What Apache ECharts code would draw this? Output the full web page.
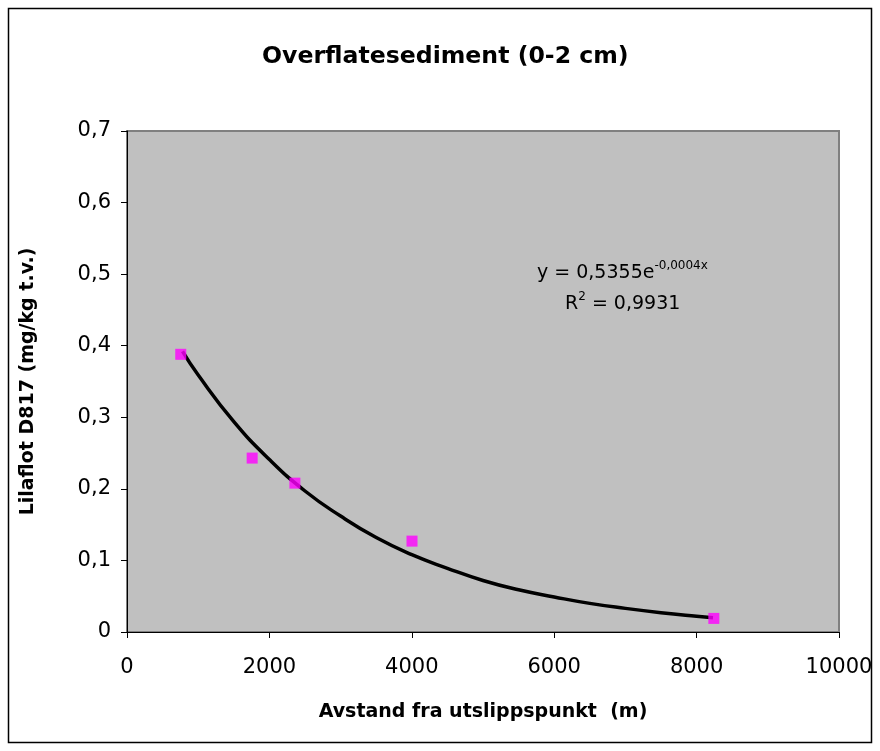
<!DOCTYPE html>
<html>
<head>
<meta charset="utf-8">
<script src="https://cdn.jsdelivr.net/npm/echarts@6/dist/echarts.min.js"></script>
<style>
html,body{margin:0;padding:0;background:#fff;}
#chart{width:880px;height:751px;}
</style>
</head>
<body>
<div id="chart"></div>
<script>
// Measured points
var pointX = [755, 1758, 2358, 4003, 8242];
var pointY = [0.388, 0.243, 0.208, 0.127, 0.019];
// Trend line
var trendX = [780, 1000, 1500, 2000, 2500, 3000, 3500, 4000, 4500, 5000, 5500, 6000, 6500, 7000, 7500, 8000, 8230];
var trendY = [0.392, 0.359, 0.294, 0.241, 0.197, 0.162, 0.132, 0.108, 0.089, 0.072, 0.059, 0.049, 0.040, 0.033, 0.027, 0.022, 0.020];

var font = '"DejaVu Sans", sans-serif';
var chart = echarts.init(document.getElementById('chart'));

function zip(a, b) { return a.map(function (v, i) { return [v, b[i]]; }); }

chart.setOption({
  animation: false,
  backgroundColor: '#fff',
  title: {
    text: 'Overflatesediment (0-2 cm)',
    left: 257,
    top: 40,
    textStyle: { fontFamily: font, fontSize: 23.6, fontWeight: 'bold', color: '#000' }
  },
  grid: { left: 127, top: 131, right: 41, bottom: 119, show: true, backgroundColor: '#c0c0c0', borderColor: '#808080', borderWidth: 2 },
  xAxis: {
    type: 'value', min: 0, max: 10000, interval: 2000,
    name: 'Avstand fra utslippspunkt  (m)', nameLocation: 'middle', nameGap: 71,
    nameTextStyle: { fontFamily: font, fontSize: 19, fontWeight: 'bold', color: '#000' },
    axisLine: { show: true, lineStyle: { color: '#000', width: 1 } },
    axisTick: { show: true, length: 6, lineStyle: { color: '#000' } },
    axisLabel: { fontFamily: font, fontSize: 21, color: '#000', margin: 25,
      formatter: function (v) { return String(v); } },
    splitLine: { show: false }
  },
  yAxis: {
    type: 'value', min: 0, max: 0.7, interval: 0.1,
    name: 'Lilaflot D817 (mg/kg t.v.)', nameLocation: 'middle', nameGap: 89,
    nameTextStyle: { fontFamily: font, fontSize: 19, fontWeight: 'bold', color: '#000' },
    axisLine: { show: true, lineStyle: { color: '#000', width: 1 } },
    axisTick: { show: true, length: 6, lineStyle: { color: '#000' } },
    axisLabel: { fontFamily: font, fontSize: 21, color: '#000', margin: 16,
      formatter: function (v) { return (Math.round(v * 10) / 10).toString().replace('.', ','); } },
    splitLine: { show: false }
  },
  series: [
    {
      type: 'line', data: zip(trendX, trendY), smooth: true, showSymbol: false,
      lineStyle: { color: '#000', width: 3.5 }, z: 3
    },
    {
      type: 'scatter', data: zip(pointX, pointY), symbol: 'rect', symbolSize: 11,
      itemStyle: { color: '#ff00ff' }, z: 4
    }
  ],
  graphic: [
    { type: 'rect', shape: { x: 8.5, y: 8.5, width: 863, height: 734 }, style: { fill: 'none', stroke: '#000', lineWidth: 1.5 }, silent: true },
    {
      type: 'text', z: 10,
      style: {
        x: 537, y: 273, verticalAlign: 'middle',
        text: '{a|y = 0,5355e}{s|-0,0004x}',
        rich: {
          a: { fontFamily: font, fontSize: 19, fill: '#000' },
          s: { fontFamily: font, fontSize: 12, fill: '#000', padding: [0, 0, 14, 0] }
        }
      }
    },
    {
      type: 'text', z: 10,
      style: {
        x: 565, y: 304, verticalAlign: 'middle',
        text: '{a|R}{s|2}{a| = 0,9931}',
        rich: {
          a: { fontFamily: font, fontSize: 19, fill: '#000' },
          s: { fontFamily: font, fontSize: 12, fill: '#000', padding: [0, 0, 14, 0] }
        }
      }
    }
  ]
});
</script>
</body>
</html>
